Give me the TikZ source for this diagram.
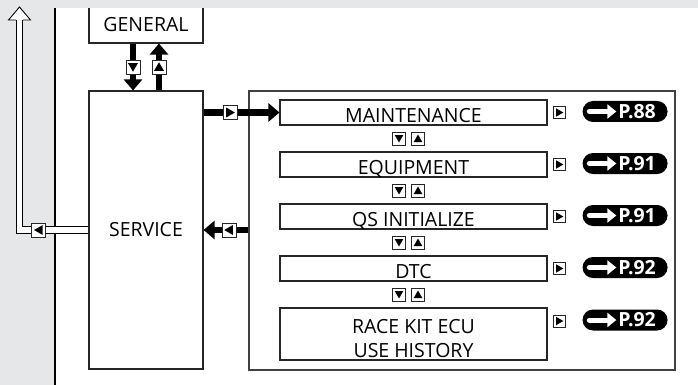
\documentclass[tikz,border=0pt]{standalone}
\usepackage{fontspec}
\setmainfont{Open Sans}
\usetikzlibrary{positioning, arrows.meta, calc, shapes.geometric, shapes.misc}
\definecolor{pagegray}{HTML}{E6E7E8}

\begin{document}
\begin{tikzpicture}[
  x=1pt, y=-1pt,
  font=\fontsize{19.5}{24}\selectfont,
  menubox/.style={draw=black!85, line width=1.1pt, fill=white, inner sep=0pt},
  item/.style={menubox, minimum width=267pt, minimum height=25pt, text height=22pt, text depth=3pt},
  keybox/.style={draw=black!85, fill=white, line width=0.8pt, minimum size=#1, inner sep=0pt},
  tri/.style 2 args={regular polygon, regular polygon sides=3, fill=black, inner sep=0pt,
    minimum size=#1, shape border rotate=#2},
  pill/.style={rounded rectangle, fill=black, text=white, inner sep=0pt,
    minimum width=85pt, minimum height=21pt, font=\fontsize{19.5}{20}\selectfont\bfseries},
  thickbar/.style={line width=6.5pt, -{Triangle[width=18pt, length=11pt]}},
  hollow/.style={double=white, double distance=5.5pt, line width=0.9pt}
]
\useasboundingbox (0,0) rectangle (698,385);

% page background, white sheet
\fill[pagegray] (0,0) rectangle (698,385);
\fill[white] (55,8) rectangle (698,385);

% top menu and service frame
\node[menubox, minimum width=114pt, minimum height=50pt, text height=39pt, text depth=11pt] (general) at (146,18) {GENERAL};
\fill[pagegray] (55,0) rectangle (698,8);
\draw[line width=1.3pt] (55,8) -- (55,385);

\node[menubox, minimum width=114pt, minimum height=278pt] (service) at (146,230) {SERVICE};
\node[draw=black!75, line width=1.4pt, minimum width=426pt, minimum height=279pt, inner sep=0pt] (panel) at (462,230.5) {};

% service sub menus
\node[item] (m1) at (413.5,112.5) {MAINTENANCE};
\node[item] (m2) at (413.5,164.5) {EQUIPMENT};
\node[item] (m3) at (413.5,216.5) {QS INITIALIZE};
\node[item] (m4) at (413.5,268.5) {DTC};
\node[item, minimum height=52pt, text height=49pt, align=center] (m5) at (413.5,334) {RACE KIT ECU\\USE HISTORY};

% down / up keys between the sub menus
\foreach \a/\b in {m1/m2, m2/m3, m3/m4, m4/m5} {
  \coordinate (mid) at ($(\a.south)!0.5!(\b.north)$);
  \node[keybox=13pt] (dn\a) at ([xshift=-14.5pt]mid) {};
  \node[tri={10pt}{180}] at ([yshift=1pt]dn\a) {};
  \node[keybox=13pt] (up\a) at ([xshift=4.5pt]mid) {};
  \node[tri={10pt}{0}] at ([yshift=-1pt]up\a) {};
}

% right key and page reference
\foreach \m/\dy/\p in {m1/0/88, m2/0/91, m3/0/91, m4/0/92, m5/13/92} {
  \node[keybox=12pt] (k\m) at ([xshift=12pt, yshift=\dy pt]\m.east) {};
  \node[tri={9.5pt}{-90}] at ([xshift=-1pt]k\m) {};
  \node[pill] (p\m) at ([xshift=77.5pt, yshift=\dy pt+1pt]\m.east) {\hspace*{24pt}P.\p};
  \draw[white, line width=5pt, line cap=round, -{Triangle[width=14pt, length=9pt]}]
    ([xshift=7pt]p\m.west) -- ([xshift=34pt]p\m.west);
}

% general <-> service
\draw[thickbar] ([xshift=-13pt]general.south) -- node[keybox=14pt] (kd) {} ([xshift=-13pt]service.north);
\node[tri={11.5pt}{180}] at ([yshift=1pt]kd) {};
\draw[thickbar] ([xshift=13pt]service.north) -- node[keybox=14pt] (ku) {} ([xshift=13pt]general.south);
\node[tri={11.5pt}{0}] at ([yshift=-1pt]ku) {};

% service -> sub menus, and back
\draw[thickbar] (service.east |- m1.west) -- node[keybox=14pt, pos=0.35] (kr) {} (m1.west);
\node[tri={11.5pt}{-90}] at ([xshift=-1pt]kr) {};
\draw[thickbar] (panel.west |- service.east) -- node[keybox=14pt, pos=0.43] (kl) {} (service.east);
\node[tri={11.5pt}{90}] at ([xshift=1pt]kl) {};

% hollow return arrow to the top
\coordinate (top) at (19.5,20);
\draw[hollow] (service.west) -| node[keybox=14pt, pos=0.36] (kb) {} (top);
\node[tri={11.5pt}{90}] at ([xshift=1pt]kb) {};
\draw[line width=0.9pt, fill=white] ([xshift=-3.5pt]top) -- ++(-7.5,0) -- ++(11,-13) -- ++(11,13) -- ++(-7.5,0);

\end{tikzpicture}
\end{document}
